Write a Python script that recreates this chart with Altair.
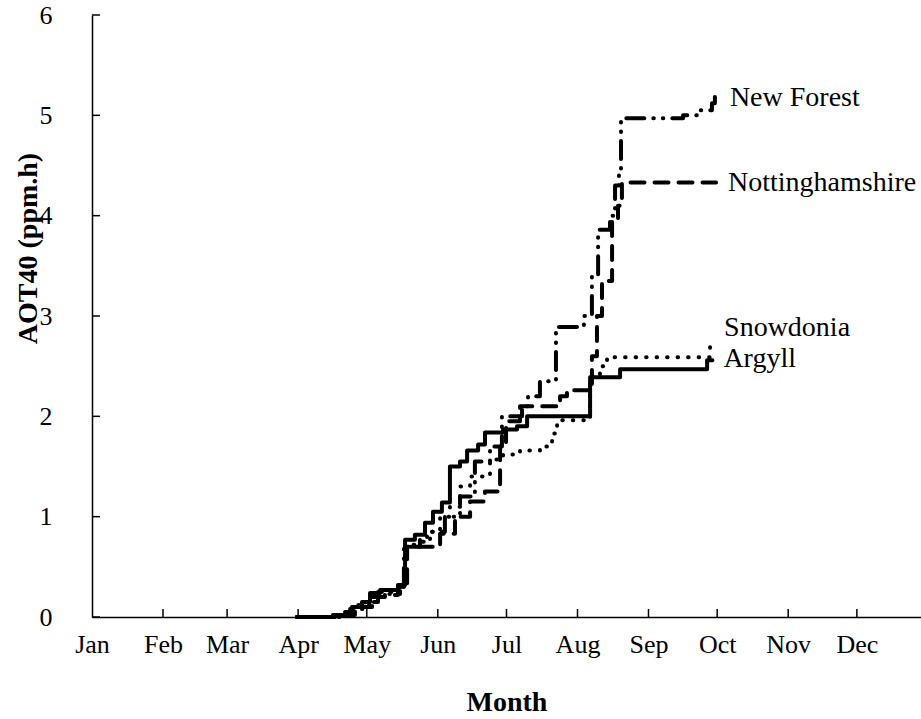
import altair as alt
import pandas as pd

# ---- axis categories / ticks ----
months = ["Jan", "Feb", "Mar", "Apr", "May", "Jun", "Jul", "Aug", "Sep", "Oct", "Nov", "Dec"]
month_start_days = [0, 31, 59, 90, 120, 151, 181, 212, 243, 273, 304, 334]
y_ticks = [0, 1, 2, 3, 4, 5, 6]

series_names = ["New Forest", "Nottinghamshire", "Snowdonia", "Argyll"]

# ---- series (day of year, cumulative AOT40 ppm.h) ----
nf_day = [89.5, 106.1, 112.7, 119.2, 124.9, 134.5, 136.2, 143.2, 147.6, 154.1, 160.7, 167.2,
          173.8, 179.0, 187.8, 190.4, 195.6, 202.6, 214.8, 218.3, 221.0, 226.2, 228.4, 230.1,
          231.0, 258.1, 265.5, 270.7, 272.0]
nf_val = [0, 0.02, 0.08, 0.15, 0.25, 0.30, 0.70, 0.75, 0.85, 1.00, 1.20, 1.55,
          1.70, 2.00, 2.10, 2.20, 2.35, 2.89, 3.00, 3.40, 3.86, 4.00, 4.30, 4.45,
          4.97, 5.00, 5.05, 5.12, 5.22]

nt_day = [89.5, 108.3, 114.8, 122.3, 127.9, 133.6, 137.6, 152.0, 158.5, 165.1, 171.6, 178.2,
          180.8, 186.9, 204.4, 207.4, 218.3, 220.5, 222.7, 227.1, 229.7, 231.4, 272.5]
nt_val = [0, 0.02, 0.10, 0.20, 0.22, 0.30, 0.70, 0.83, 1.00, 1.15, 1.25, 1.70,
          1.95, 2.10, 2.20, 2.26, 2.60, 3.00, 3.35, 3.95, 4.10, 4.33, 4.33]

sn_day = [89.5, 108.3, 114.8, 121.4, 127.9, 134.5, 136.7, 143.2, 146.3, 152.0, 156.3, 160.7,
          165.1, 173.8, 179.5, 186.9, 195.6, 200.9, 203.1, 217.5, 221.8, 224.9, 269.9, 271.2]
sn_val = [0, 0.03, 0.12, 0.20, 0.23, 0.30, 0.72, 0.78, 0.85, 1.00, 1.10, 1.30,
          1.40, 1.57, 1.62, 1.66, 1.70, 1.83, 1.96, 2.40, 2.50, 2.59, 2.71, 2.71]

ar_day = [89.5, 105.2, 110.5, 113.5, 117.9, 121.4, 125.8, 133.6, 136.7, 141.0, 145.4, 148.9,
          152.8, 156.3, 160.7, 163.8, 168.6, 171.6, 179.5, 185.6, 190.0, 217.5, 230.6, 268.6, 270.9]
ar_val = [0, 0.02, 0.05, 0.10, 0.15, 0.24, 0.27, 0.32, 0.77, 0.82, 0.94, 1.05,
          1.14, 1.50, 1.55, 1.66, 1.72, 1.84, 1.87, 1.90, 2.00, 2.39, 2.47, 2.56, 2.56]

series = {
    "New Forest": (nf_day, nf_val),
    "Nottinghamshire": (nt_day, nt_val),
    "Snowdonia": (sn_day, sn_val),
    "Argyll": (ar_day, ar_val),
}

rows = []
for name, (days, vals) in series.items():
    for d, v in zip(days, vals):
        rows.append({"site": name, "day": d, "aot40": v})
df = pd.DataFrame(rows)

FONT = "Liberation Serif"
W, H = 829, 602

x_scale = alt.Scale(domain=[0, 362], nice=False, zero=False)
y_scale = alt.Scale(domain=[0, 6], nice=False)

month_arr = "[" + ",".join("'%s'" % m for m in months) + "]"
day_arr = "[" + ",".join(str(d) for d in month_start_days) + "]"
label_expr = "%s[indexof(%s, datum.value)]" % (month_arr, day_arr)

x_axis = alt.Axis(
    values=month_start_days, labelExpr=label_expr, title="Month",
    ticks=False, grid=False, domainColor="black", domainWidth=1.5,
    labelFont=FONT, labelFontSize=26, labelColor="black", labelPadding=14,
    labelAlign="center", labelBaseline="top", labelFlush=False, labelOverlap=False,
    titleFont=FONT, titleFontSize=28, titleFontWeight="bold", titleColor="black",
    titleY=85, titleBaseline="middle",
)
y_axis = alt.Axis(
    values=y_ticks, title="AOT40 (ppm.h)", ticks=False, grid=False,
    domainColor="black", domainWidth=1.5,
    labelFont=FONT, labelFontSize=26, labelColor="black", labelPadding=40,
    labelFlush=False,
    titleFont=FONT, titleFontSize=28, titleFontWeight="bold", titleColor="black",
    titleAngle=270, titleX=-64, titleY=233, titleAlign="center", titleBaseline="middle",
)

lines = alt.Chart(df).mark_line(
    interpolate="step-after", strokeWidth=4, strokeCap="round", strokeJoin="round", color="black"
).encode(
    x=alt.X("day:Q", scale=x_scale, axis=x_axis),
    y=alt.Y("aot40:Q", scale=y_scale, axis=y_axis),
    strokeDash=alt.StrokeDash(
        "site:N",
        scale=alt.Scale(domain=series_names,
                        range=[[18, 9, 0.5, 9, 0.5, 9], [14, 10], [0.5, 10], [1, 0]]),
        legend=None,
    ),
    detail="site:N",
    order="day:Q",
)

yticks = alt.Chart(pd.DataFrame({"aot40": y_ticks})).mark_rule(
    color="black", strokeWidth=1.5
).encode(
    y=alt.Y("aot40:Q", scale=y_scale, axis=y_axis),
    x=alt.value(0), x2=alt.value(8),
)

xticks = alt.Chart(pd.DataFrame({"day": month_start_days[1:]})).mark_rule(
    color="black", strokeWidth=1.5
).encode(
    x=alt.X("day:Q", scale=x_scale, axis=x_axis),
    y=alt.value(H), y2=alt.value(H - 8),
)

label_offsets = {
    "New Forest": (15, 5),
    "Nottinghamshire": (12, 0),
    "Snowdonia": (11, -17),
    "Argyll": (11, -1),
}
label_layers = []
for name in series_names:
    days, vals = series[name]
    ldf = pd.DataFrame({"site": [name], "day": [days[-1]], "aot40": [vals[-1]]})
    dx, dy = label_offsets[name]
    label_layers.append(
        alt.Chart(ldf).mark_text(
            align="left", baseline="middle", dx=dx, dy=dy,
            font=FONT, fontSize=28, color="black",
        ).encode(
            x=alt.X("day:Q", scale=x_scale, axis=x_axis),
            y=alt.Y("aot40:Q", scale=y_scale, axis=y_axis),
            text="site:N",
        )
    )

chart = alt.layer(lines, yticks, xticks, *label_layers).properties(
    width=W, height=H,
    autosize=alt.AutoSizeParams(type="none"),
    padding={"left": 92, "top": 15, "right": 0, "bottom": 102},
    background="white",
).configure_view(stroke=None)

chart.save("out.html", embed_options={"renderer": "svg", "actions": False})
